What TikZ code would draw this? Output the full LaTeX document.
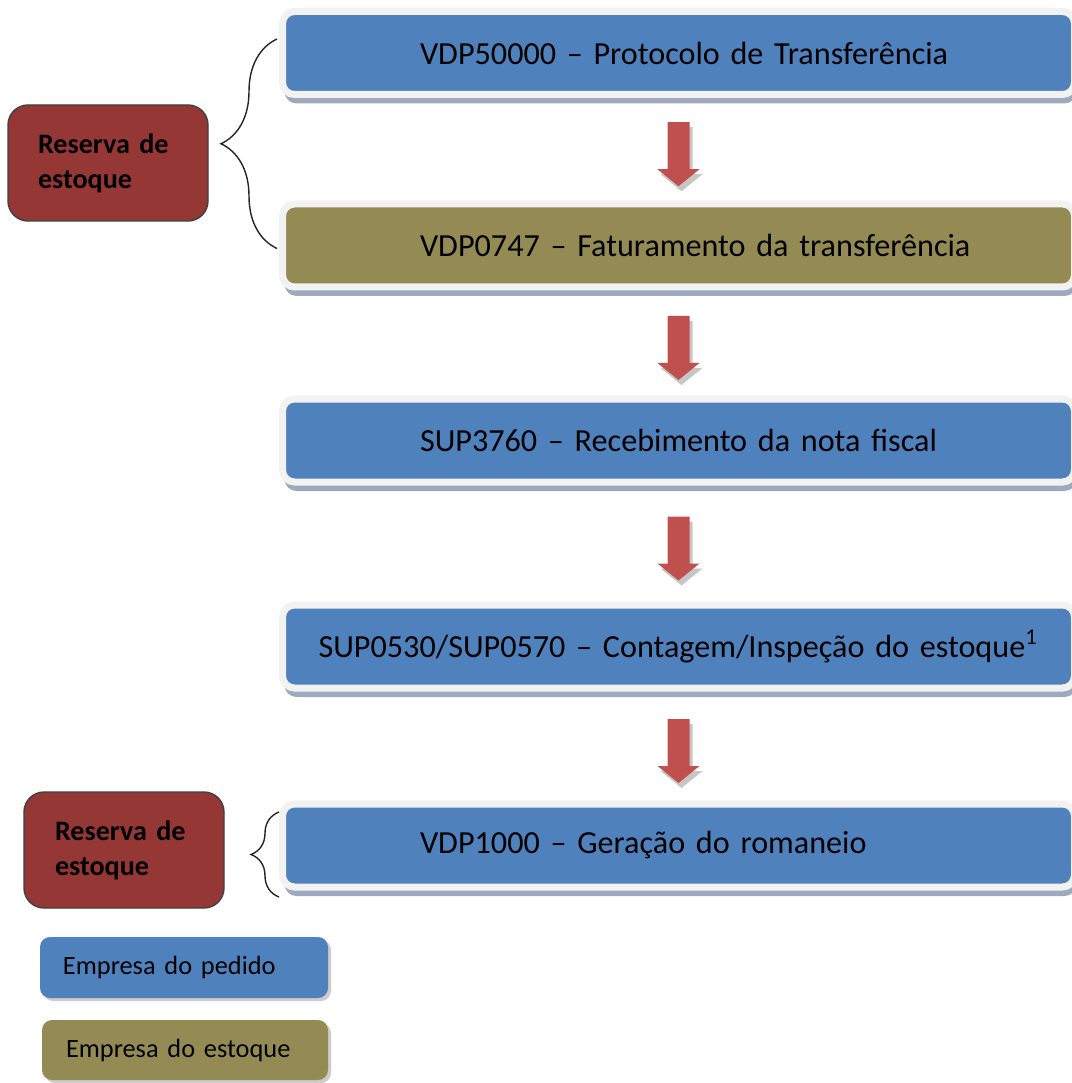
\documentclass[tikz,border=0pt]{standalone}
\usepackage{fontspec}
\setmainfont{Carlito}
\usetikzlibrary{calc,shadows,decorations.pathreplacing}
\definecolor{boxblue}{HTML}{4F81BD}
\definecolor{boxolive}{HTML}{948A54}
\definecolor{resred}{HTML}{953735}
\definecolor{arrowred}{HTML}{C0504D}
\definecolor{framegray}{HTML}{F2F2F2}
\definecolor{shadowblue}{HTML}{9DAABE}

\begin{document}
\begin{tikzpicture}[
	procbox/.style={rounded corners=.12cm, minimum width=7.92cm, minimum height=.83cm, draw=framegray, line width=.07cm, text width=5.17cm, align=left, font=\fontsize{9.15}{10}\selectfont, drop shadow={shadow xshift=.02cm, shadow yshift=-.09cm, fill=shadowblue, opacity=1}},
	resbox/.style={rounded corners=.2cm, draw=black!75, fill=resred, minimum width=2cm, minimum height=1.16cm, text width=1.4cm, align=left, font=\bfseries\fontsize{8}{10}\selectfont},
	legbox/.style={rounded corners=.1cm, minimum width=2.88cm, minimum height=.61cm, text width=2.42cm, align=left, font=\fontsize{7.5}{9}\selectfont, drop shadow={shadow xshift=.03cm, shadow yshift=-.03cm, fill=gray!40, opacity=1}},
	grpbrace/.style={decorate, thin, draw=black!85}]
	\useasboundingbox (0,0) rectangle (10.72,-10.83);
	\node[procbox, fill=boxblue] (b1) at (6.785,-.53) {\mbox{VDP50000 – Protocolo de Transferência}};
	\node[procbox, fill=boxolive] (b2) at (6.785,-2.455) {\mbox{VDP0747 – Faturamento da transferência}};
	\node[procbox, fill=boxblue] (b3) at (6.785,-4.405) {\mbox{SUP3760 – Recebimento da nota fiscal}};
	\node[procbox, fill=boxblue, text width=7.4cm, align=center] (b4) at (6.785,-6.465) {SUP0530/SUP0570 – Contagem/Inspeção do estoque\textsuperscript{1}};
	\node[procbox, fill=boxblue] (b5) at (6.785,-8.455) {\mbox{VDP1000 – Geração do romaneio}};
	\foreach \a/\b in {b1/b2,b2/b3,b3/b4,b4/b5}
		\fill[arrowred, drop shadow={shadow xshift=.03cm, shadow yshift=-.05cm, fill=gray!45, opacity=1}] ($(\a.south)!.5!(\b.north)+(0,.27)$) ++(-.11,0) -- ++(0,-.47) -- ++(-.1,0) -- ++(.21,-.17) -- ++(.21,.17) -- ++(-.1,0) -- ++(0,.47) -- cycle;
	\node[resbox] (r1) at (1.08,-1.63) {Reserva de estoque};
	\node[resbox, text width=1.38cm] (r2) at (1.24,-8.5) {Reserva de estoque};
	\coordinate (br1t) at ($(b1.west)+(-.02,.14)$);
	\coordinate (br1b) at ($(b2.west)+(-.02,-.03)$);
	\draw[grpbrace, decoration={brace, amplitude=.56cm}] (br1b) -- (br1t);
	\coordinate (br2t) at ($(b5.west)+(0,.335)$);
	\coordinate (br2b) at ($(b5.west)+(0,-.515)$);
	\draw[grpbrace, decoration={brace, amplitude=.28cm}] (br2b) -- (br2t);
	\node[legbox, fill=boxblue] (l1) at (1.84,-9.675) {Empresa do pedido};
	\node[legbox, fill=boxolive, minimum width=2.86cm, minimum height=.6cm, text width=2.38cm] (l2) at (1.85,-10.5) {Empresa do estoque};
\end{tikzpicture}
\end{document}
